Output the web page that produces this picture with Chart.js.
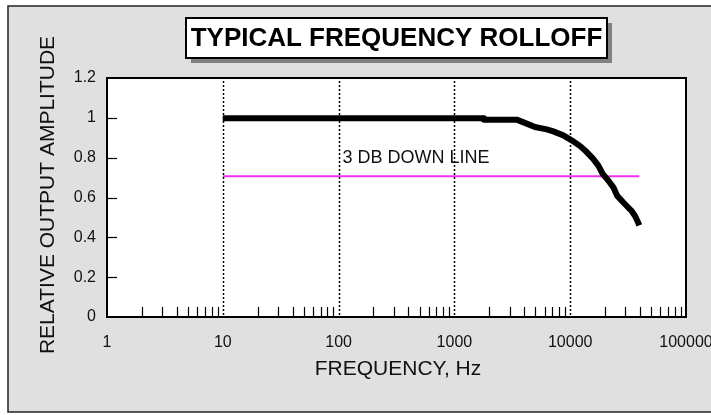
<!DOCTYPE html>
<html>
<head>
<meta charset="utf-8">
<script src="https://cdn.jsdelivr.net/npm/chart.js@4.4.1/dist/chart.umd.min.js"></script>
<style>
  html, body { margin: 0; padding: 0; background: #fff; }
  canvas { display: block; }
</style>
</head>
<body>
<canvas id="chart" width="711" height="415"></canvas>
<script>
// measured response
const freqHz = [10, 1780, 1800, 3450, 4210, 4960, 6270, 7150, 8720, 10300, 12200, 13900,
                15800, 17500, 19100, 21400, 23600, 25500, 28800, 34000, 36300, 38700, 39500];
const amplitude = [0.998, 0.998, 0.991, 0.991, 0.971, 0.954, 0.942, 0.932, 0.912, 0.887, 0.858, 0.828,
                   0.794, 0.760, 0.718, 0.684, 0.651, 0.608, 0.575, 0.532, 0.507, 0.473, 0.46];

// 3 dB reference line
const downLineFreq = [10, 39500];
const downLineAmp = [0.707, 0.707];

const xTickValues = [1, 10, 100, 1000, 10000, 100000];
const xTickLabels = ['1', '10', '100', '1000', '10000', '100000'];
const yTickValues = [0, 0.2, 0.4, 0.6, 0.8, 1.0, 1.2];
const yTickLabels = ['0', '0.2', '0.4', '0.6', '0.8', '1', '1.2'];
const yTickMarks = [0.2, 0.4, 0.6, 0.8, 1.0];
const gridFreqs = [10, 100, 1000, 10000];

const chartTitle = 'TYPICAL FREQUENCY ROLLOFF';
const xTitle = 'FREQUENCY, Hz';
const yTitle = 'RELATIVE OUTPUT AMPLITUDE';
const noteText = '3 DB DOWN LINE';
const noteAt = [108, 0.80];

// minor tick marks 2..9 in every decade
const minorFreqs = [];
for (let d = 1; d < 100000; d *= 10) {
    for (let m = 2; m <= 9; m++) minorFreqs.push(d * m);
}

const FONT = '"Liberation Sans", Arial, sans-serif';
Chart.defaults.font.family = FONT;

const decor = {
    id: 'decor',
    beforeDraw(c) {
        const ctx = c.ctx, a = c.chartArea;
        ctx.save();
        ctx.fillStyle = '#fff';
        ctx.fillRect(0, 0, c.width, c.height);
        ctx.fillStyle = '#e0e0e0';
        ctx.fillRect(8, 6, c.width, 406);
        ctx.strokeStyle = '#222';
        ctx.lineWidth = 1.5;
        ctx.strokeRect(8, 6, c.width, 406);
        ctx.fillStyle = '#fff';
        ctx.fillRect(a.left, a.top, a.width, a.height);
        ctx.restore();
    },
    beforeDatasetsDraw(c) {
        const ctx = c.ctx, a = c.chartArea, x = c.scales.x;
        ctx.save();
        ctx.strokeStyle = '#000';
        ctx.lineWidth = 1.5;
        ctx.setLineDash([2, 2]);
        gridFreqs.forEach(f => {
            const px = Math.round(x.getPixelForValue(f)) + 0.5;
            ctx.beginPath();
            ctx.moveTo(px, a.top + 3);
            ctx.lineTo(px, a.bottom);
            ctx.stroke();
        });
        ctx.restore();
    },
    afterDatasetsDraw(c) {
        const ctx = c.ctx, a = c.chartArea, x = c.scales.x, y = c.scales.y;
        ctx.save();
        ctx.strokeStyle = '#000';
        ctx.lineWidth = 1.2;
        minorFreqs.forEach(f => {
            const px = Math.round(x.getPixelForValue(f)) + 0.5;
            ctx.beginPath();
            ctx.moveTo(px, a.bottom);
            ctx.lineTo(px, a.bottom - 10);
            ctx.stroke();
        });
        yTickMarks.forEach(v => {
            const py = Math.round(y.getPixelForValue(v)) + 0.5;
            ctx.beginPath();
            ctx.moveTo(a.left, py);
            ctx.lineTo(a.left + 10, py);
            ctx.stroke();
        });
        ctx.lineWidth = 2;
        ctx.strokeRect(a.left, a.top, a.width, a.height);

        ctx.fillStyle = '#111';
        ctx.font = '18px ' + FONT;
        ctx.textBaseline = 'middle';
        ctx.textAlign = 'left';
        ctx.fillText(noteText, x.getPixelForValue(noteAt[0]), y.getPixelForValue(noteAt[1]));
        ctx.restore();
    },
    afterDraw(c) {
        const ctx = c.ctx;
        ctx.save();
        // title box with shadow
        ctx.fillStyle = '#808080';
        ctx.fillRect(191, 23, 421, 40);
        ctx.fillStyle = '#fff';
        ctx.fillRect(186, 18, 421, 40);
        ctx.strokeStyle = '#000';
        ctx.lineWidth = 2;
        ctx.strokeRect(186, 18, 421, 40);
        ctx.fillStyle = '#000';
        ctx.font = 'bold 26px ' + FONT;
        ctx.textAlign = 'center';
        ctx.textBaseline = 'middle';
        ctx.fillText(chartTitle, 396.5, 39);

        ctx.fillStyle = '#111';
        ctx.font = '21px ' + FONT;
        ctx.fillText(xTitle, 398, 369);
        ctx.translate(48, 195);
        ctx.rotate(-Math.PI / 2);
        ctx.fillText(yTitle, 0, 0);
        ctx.restore();
    }
};

new Chart(document.getElementById('chart'), {
    type: 'line',
    data: {
        datasets: [
            {
                label: 'Response',
                data: freqHz.map((f, i) => ({ x: f, y: amplitude[i] })),
                borderColor: '#000',
                borderWidth: 6,
                borderCapStyle: 'butt',
                borderJoinStyle: 'round',
                pointRadius: 0,
                tension: 0,
                fill: false
            },
            {
                label: '3 dB down',
                data: downLineFreq.map((f, i) => ({ x: f, y: downLineAmp[i] })),
                borderColor: '#ee33ee',
                borderWidth: 2,
                pointRadius: 0,
                fill: false
            }
        ]
    },
    options: {
        responsive: false,
        devicePixelRatio: 1,
        animation: false,
        layout: { padding: { top: 78, left: 0, right: 25, bottom: 0 } },
        plugins: {
            legend: { display: false },
            tooltip: { enabled: false }
        },
        scales: {
            x: {
                type: 'logarithmic',
                min: 1,
                max: 100000,
                grid: { display: false, drawTicks: false },
                border: { display: false },
                afterBuildTicks: s => { s.ticks = xTickValues.map(v => ({ value: v })); },
                afterFit: s => { s.height = 98; s.paddingRight = 0; s.paddingLeft = 0; },
                ticks: {
                    color: '#111',
                    font: { size: 16 },
                    padding: 16,
                    maxRotation: 0,
                    autoSkip: false,
                    callback: (v, i) => xTickLabels[i]
                }
            },
            y: {
                min: 0,
                max: 1.2,
                grid: { display: false, drawTicks: false },
                border: { display: false },
                afterBuildTicks: s => { s.ticks = yTickValues.map(v => ({ value: v })); },
                afterFit: s => { s.width = 107; },
                ticks: {
                    color: '#111',
                    font: { size: 16 },
                    padding: 11,
                    callback: (v, i) => yTickLabels[i]
                }
            }
        }
    },
    plugins: [decor]
});
</script>
</body>
</html>
